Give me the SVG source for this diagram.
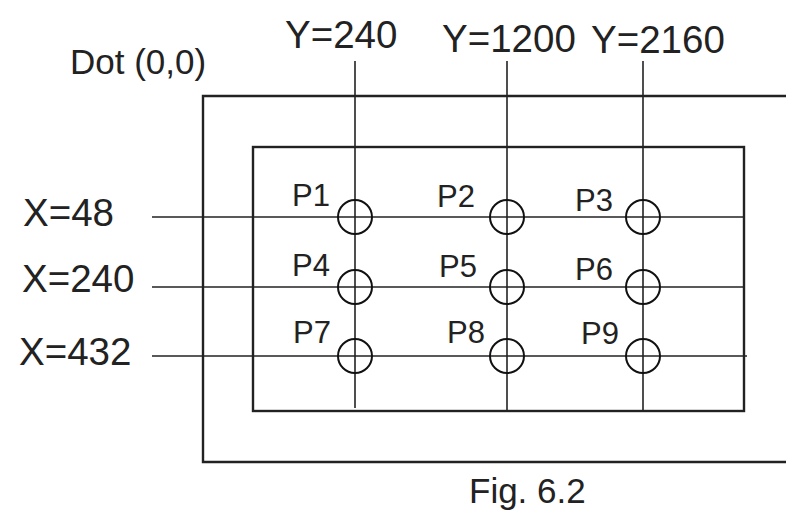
<svg xmlns="http://www.w3.org/2000/svg" width="786" height="512" viewBox="0 0 786 512">
<style>
.t{font-family:"Liberation Sans",Arial,sans-serif;fill:#222}
.ax{font-size:38.5px}
.p{font-size:31px}
.frame{fill:none;stroke:#222;stroke-width:2.4}
.ln{stroke:#222;stroke-width:1.6;fill:none}
.c{fill:none;stroke:#111;stroke-width:2}
</style>
<rect width="786" height="512" fill="#fff"/>
<g id="outer-frame"><path class="frame" d="M790,96 H203 V462 H790"/></g>
<g id="inner-frame"><rect class="frame" x="253" y="147" width="491" height="264"/></g>
<g id="connectors">
<line class="ln" x1="355" y1="61" x2="355" y2="408"/>
<line class="ln" x1="507" y1="61" x2="507" y2="410"/>
<line class="ln" x1="643" y1="61" x2="643" y2="410"/>
<line class="ln" x1="152" y1="217" x2="744" y2="217"/>
<line class="ln" x1="152" y1="287" x2="744" y2="287"/>
<line class="ln" x1="152" y1="356" x2="747" y2="356"/>
</g>
<g id="labels">
<text class="t" x="70" y="74" font-size="35">Dot (0,0)</text>
<text class="t ax" x="285" y="48">Y=240</text>
<text class="t ax" x="442" y="52">Y=1200</text>
<text class="t ax" x="591" y="53">Y=2160</text>
<text class="t ax" x="23" y="226">X=48</text>
<text class="t ax" x="22" y="292">X=240</text>
<text class="t ax" x="19" y="365">X=432</text>
<text class="t" x="469" y="503" font-size="35">Fig. 6.2</text>
</g>
<g id="P1"><circle class="c" cx="355" cy="217" r="17"/><text class="t p" x="292" y="206">P1</text></g>
<g id="P2"><circle class="c" cx="507" cy="217" r="17"/><text class="t p" x="437" y="207">P2</text></g>
<g id="P3"><circle class="c" cx="643" cy="217" r="17"/><text class="t p" x="575" y="211">P3</text></g>
<g id="P4"><circle class="c" cx="355" cy="287" r="17"/><text class="t p" x="292" y="276">P4</text></g>
<g id="P5"><circle class="c" cx="507" cy="287" r="17"/><text class="t p" x="439" y="277">P5</text></g>
<g id="P6"><circle class="c" cx="643" cy="287" r="17"/><text class="t p" x="575" y="280">P6</text></g>
<g id="P7"><circle class="c" cx="355" cy="356" r="17"/><text class="t p" x="293" y="343">P7</text></g>
<g id="P8"><circle class="c" cx="507" cy="356" r="17"/><text class="t p" x="447" y="343">P8</text></g>
<g id="P9"><circle class="c" cx="643" cy="356" r="17"/><text class="t p" x="581" y="344">P9</text></g>
</svg>
